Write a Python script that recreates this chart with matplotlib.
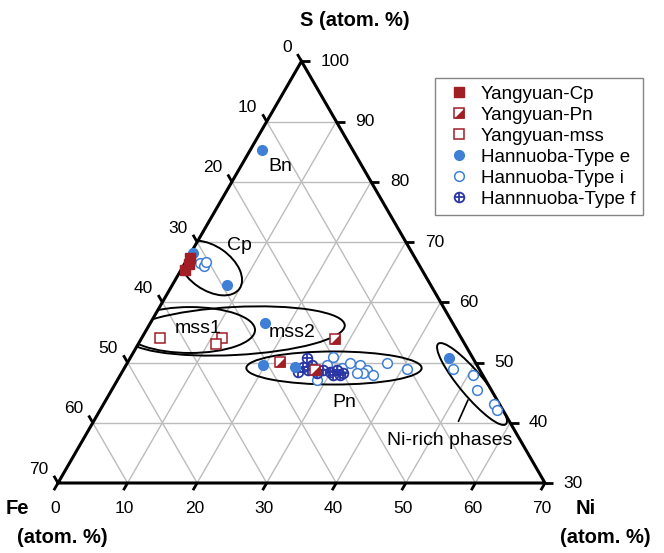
import numpy as np
import matplotlib.pyplot as plt
from matplotlib.patches import Ellipse, Polygon
from matplotlib.lines import Line2D

plt.rcParams['font.family'] = ['Liberation Sans', 'DejaVu Sans']

# compositions in atom %: S and Ni per analysis, Fe is the rest
cp_yy_s = [67.4, 66.4, 65.4]
cp_yy_ni = [0.3, 0.6, 0.5]
pn_yy_s = [53.9, 50.1, 48.8]
pn_yy_ni = [27.9, 21.9, 27.6]
mss_yy_s = [54.1, 54.1, 53.1]
mss_yy_ni = [2.6, 11.5, 11.1]
type_e_s = [85.3, 68.2, 62.9, 56.6, 49.6, 49.3, 50.8]
type_e_ni = [1.7, 0.3, 7.9, 16.5, 19.7, 24.4, 45.8]
type_i_s = [66.5, 66.0, 66.7, 50.9, 49.6, 49.1, 49.9, 49.6, 48.8, 47.9, 48.3,
            49.9, 48.9, 47.1, 48.3, 48.9, 47.9, 45.4, 43.1, 42.1]
type_i_ni = [2.2, 3.0, 2.9, 29.1, 28.9, 31.3, 32.0, 33.6, 35.0, 36.3, 34.7,
             37.3, 40.7, 28.7, 33.9, 47.3, 50.7, 52.5, 56.1, 57.0]
type_f_s = [49.3, 48.8, 49.6, 50.8, 48.3, 48.8, 48.4, 48.8, 48.3, 47.9, 47.9, 48.4]
type_f_ni = [25.6, 26.6, 26.7, 25.4, 28.1, 28.7, 29.9, 30.7, 31.8, 30.6, 31.6, 25.3]

fe_ticks = list(range(0, 80, 10))
s_ticks = list(range(30, 110, 10))
ni_ticks = list(range(0, 80, 10))

RED = '#a01e24'
BLUE = '#3f7fd5'
NAVY = '#2b36a6'
GRID = '#bcbcbc'

S0 = 30
H = np.sqrt(3) / 2
K = 6.957  # pixels per atom %


def xy(s, ni):
    s = np.asarray(s, float)
    ni = np.asarray(ni, float)
    return ni + (s - S0) / 2, (s - S0) * H


fig = plt.figure(figsize=(6.64, 5.53), dpi=100)
ax = fig.add_axes([0, 0, 1, 1])
ax.set_xlim(-58 / K, (664 - 58) / K)
ax.set_ylim(-(553 - 483) / K, 483 / K)
ax.axis('off')

# grid
for v in range(40, 100, 10):
    x, y = xy([v, v], [0, 100 - v])
    ax.plot(x, y, color=GRID, lw=1, zorder=1)
for v in range(10, 70, 10):
    x, y = xy([100 - v, S0], [v, v])
    ax.plot(x, y, color=GRID, lw=1, zorder=1)
    x, y = xy([100 - v, S0], [0, 70 - v])
    ax.plot(x, y, color=GRID, lw=1, zorder=1)

# frame
tx, ty = xy([S0, 100, S0, S0], [0, 0, 70, 0])
ax.plot(tx, ty, color='black', lw=2.2, zorder=3, solid_joinstyle='miter')
tri = Polygon(np.column_stack([tx[:3], ty[:3]]), closed=True, transform=ax.transData)

L = 1.2
tick_kw = dict(color='black', lw=2, zorder=3, solid_capstyle='butt')
lab_kw = dict(fontsize=12.5, zorder=6)
for f in fe_ticks:
    x, y = xy(100 - f, 0)
    ax.plot([x, x - 0.5 * L], [y, y + H * L], **tick_kw)
    ax.text(x - 1.4, y + 2.0, str(f), ha='right', va='center', **lab_kw)
for s in s_ticks:
    x, y = xy(s, 100 - s)
    ax.plot([x, x + L], [y, y], **tick_kw)
    ax.text(x + 2.7, y, str(s), ha='left', va='center', **lab_kw)
for n in ni_ticks:
    x, y = xy(S0, n)
    ax.plot([x, x - 0.5 * L], [y, y - H * L], **tick_kw)
    ax.text(x - 0.4, y - 3.6, str(n), ha='center', va='center', **lab_kw)

title_kw = dict(fontsize=14.5, fontweight='bold', ha='center', va='center')
ax.text(42.7, 66.5, 'S (atom. %)', **title_kw)
ax.text(-5.8, -3.6, 'Fe', **title_kw)
ax.text(0.6, -7.9, '(atom. %)', **title_kw)
ax.text(75.8, -3.6, 'Ni', **title_kw)
ax.text(78.6, -7.9, '(atom. %)', **title_kw)

# phase fields
fields = [
    ((21.85, 30.90), 10.35, 6.3, -35),   # Cp
    ((18.97, 21.99), 18.7, 6.6, 0),      # mss1
    ((25.44, 21.85), 31.6, 6.9, 3),      # mss2
    ((39.67, 16.53), 25.2, 4.75, 0),     # Pn
    ((59.51, 14.23), 15.1, 3.45, -50),   # Ni-rich
]
for c, w, h, a in fields:
    e = Ellipse(c, w, h, angle=a, fill=False, ec='black', lw=1.4, zorder=4)
    ax.add_patch(e)
    e.set_clip_path(tri)

note_kw = dict(fontsize=14, ha='center', va='center', zorder=6)
for txt, s, n in [('Bn', 82.45, 5.7), ('Cp', 69.5, 6.4), ('mss1', 55.7, 7.3),
                  ('mss2', 54.9, 21.2), ('Pn', 43.4, 34.5)]:
    x, y = xy(s, n)
    ax.text(x, y, txt, **note_kw)
x0, y0 = xy(37.1, 52.8)
ax.annotate('Ni-rich phases', xy=(58.93, 11.93), xytext=(x0, y0),
            arrowprops=dict(arrowstyle='-', color='black', lw=1.2,
                            shrinkA=6, shrinkB=0),
            **note_kw)

# analyses
ms = 7
sq = 7.5
tri_marker = [(-1, -1), (1, -1), (1, 1), (-1, -1)]
x, y = xy(type_i_s, type_i_ni)
ax.plot(x, y, 'o', ms=ms, mfc='white', mec=BLUE, mew=1.1, ls='none', zorder=5)
x, y = xy(type_f_s, type_f_ni)
ax.plot(x, y, 'o', ms=ms, mfc='none', mec=NAVY, mew=1.3, ls='none', zorder=5)
ax.plot(x, y, '+', ms=ms, mec=NAVY, mew=1.3, ls='none', zorder=5)
x, y = xy(type_e_s, type_e_ni)
ax.plot(x, y, 'o', ms=ms, color=BLUE, ls='none', zorder=5)
x, y = xy(mss_yy_s, mss_yy_ni)
ax.plot(x, y, 's', ms=sq, mfc='white', mec=RED, mew=1.1, ls='none', zorder=5)
x, y = xy(pn_yy_s, pn_yy_ni)
ax.plot(x, y, 's', ms=sq, mfc='white', mec=RED, mew=1.1, ls='none', zorder=5)
ax.plot(x, y, marker=tri_marker, ms=sq, color=RED, mew=0, ls='none', zorder=5)
x, y = xy(cp_yy_s, cp_yy_ni)
ax.plot(x, y, 's', ms=sq, color=RED, ls='none', zorder=5)

handles = [
    Line2D([], [], marker='s', ms=sq, color=RED, ls='none'),
    (Line2D([], [], marker='s', ms=sq, mfc='white', mec=RED, mew=1.1, ls='none'),
     Line2D([], [], marker=tri_marker, ms=sq, color=RED, mew=0, ls='none')),
    Line2D([], [], marker='s', ms=sq, mfc='white', mec=RED, mew=1.1, ls='none'),
    Line2D([], [], marker='o', ms=ms, color=BLUE, ls='none'),
    Line2D([], [], marker='o', ms=ms, mfc='white', mec=BLUE, mew=1.1, ls='none'),
    (Line2D([], [], marker='o', ms=ms, mfc='none', mec=NAVY, mew=1.3, ls='none'),
     Line2D([], [], marker='+', ms=ms, mec=NAVY, mew=1.3, ls='none')),
]
labels = ['Yangyuan-Cp', 'Yangyuan-Pn', 'Yangyuan-mss', 'Hannuoba-Type e',
          'Hannuoba-Type i', 'Hannnuoba-Type f']
leg = ax.legend(handles, labels, loc='upper left',
                bbox_to_anchor=(435 / 664, (553 - 78) / 553),
                bbox_transform=fig.transFigure, fontsize=13.5, frameon=True,
                fancybox=False, edgecolor='#666666', borderaxespad=0,
                borderpad=0.4, labelspacing=0.21, handlelength=1.8,
                handletextpad=0.25)
leg.get_frame().set_linewidth(1.0)

fig.savefig('out.png', dpi=100, facecolor='white')
